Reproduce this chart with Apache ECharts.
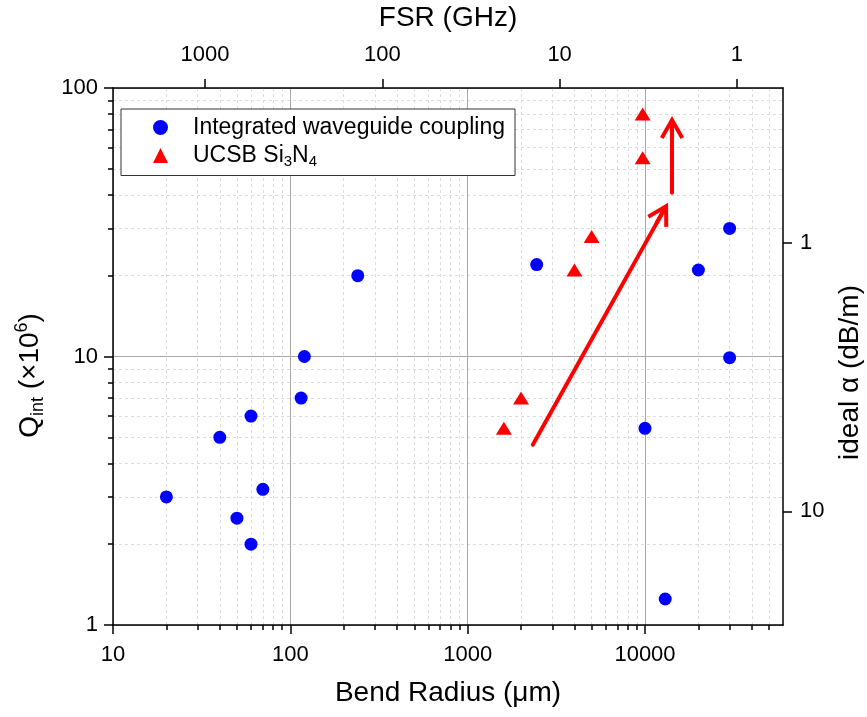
<!DOCTYPE html>
<html><head><meta charset="utf-8">
<script src="https://cdn.jsdelivr.net/npm/echarts@6/dist/echarts.min.js"></script>
<style>html,body{margin:0;padding:0;background:#fff}#c{width:867px;height:717px}</style>
</head><body><div id="c"></div>
<script>
// ---------------- data ----------------
const seriesNames = ['Integrated waveguide coupling', 'UCSB Si3N4'];
const waveguideRadius = [20, 40, 50, 60, 60, 70, 115, 120, 240, 2450, 10000, 13000, 20000, 30000, 30000];
const waveguideQ      = [3, 5, 2.5, 6, 2, 3.2, 7, 10, 20, 22, 5.4, 1.25, 21, 30, 9.9];
const ucsbRadius = [1600, 2000, 4000, 5000, 9700, 9700];
const ucsbQ      = [5.4, 7, 21, 28, 55, 80];

const bottomTicks = [10, 100, 1000, 10000];          // Bend radius (µm)
const leftTicks   = [1, 10, 100];                    // Q_int (x10^6)
const topTicks    = [1, 10, 100, 1000];              // FSR (GHz)
const rightTicks  = [1, 10];                         // ideal alpha (dB/m)
const xMinorTicks = [20, 30, 40, 50, 60, 70, 80, 90, 200, 300, 400, 500, 600, 700, 800, 900,
                     2000, 3000, 4000, 5000, 6000, 7000, 8000, 9000, 20000, 30000, 40000, 50000];
const yMinorTicks = [2, 3, 4, 5, 6, 7, 8, 9, 20, 30, 40, 50, 60, 70, 80, 90];

const xRange     = [10, 60000];
const yRange     = [1, 100];
const fsrRange   = [0.55, 3300];
const alphaRange = [0.265, 26.5];

// arrow annotations: [start, end] in (radius, Q)
const arrowDiagonal = [[2330, 4.69], [12500, 34.2]];
const arrowVertical = [[14200, 40.7], [14200, 71]];

// ---------------- chart ----------------
const FONT = "'Liberation Sans', Arial, sans-serif";
const BLACK = '#000';
const chart = echarts.init(document.getElementById('c'), null, {renderer: 'canvas'});
const fmt = v => String(Math.round(v * 1000) / 1000);
const arrowPath = 'path://M12,0 L24,21 L20.53,23 L14,11.56 L14,24 L10,24 L10,11.56 L3.47,23 L0,21 Z';

const mainAxisLine = {show: true, onZero: false, lineStyle: {color: BLACK, width: 1.5}};
const tickStyle = {color: BLACK, width: 1.5};
const labelStyle = {color: BLACK, fontSize: 22, fontFamily: FONT};
const nameStyle = {color: BLACK, fontSize: 28, fontFamily: FONT};

const option = {
  backgroundColor: '#fff',
  animation: false,
  grid: {left: 113, right: 84, top: 88, bottom: 92, containLabel: false, outerBoundsMode: 'none'},
  legend: {
    left: 121, top: 109, orient: 'vertical',
    padding: [7, 10, 6, 32], itemGap: 5, itemWidth: 15, itemHeight: 15,
    borderColor: '#333', borderWidth: 1, borderRadius: 0, backgroundColor: '#fff',
    selectedMode: false,
    data: [{name: seriesNames[0], icon: 'circle'}, {name: seriesNames[1], icon: 'triangle'}],
    formatter: name => name === seriesNames[1]
      ? '{n|UCSB Si}{s|3}{n|N}{s|4}' : '{n|' + name + '}',
    textStyle: {
      color: BLACK, fontFamily: FONT, fontSize: 23, padding: [0, 0, 0, 20],
      rich: {
        n: {fontSize: 23, lineHeight: 28, fontFamily: FONT, color: BLACK},
        s: {fontSize: 15, lineHeight: 10, verticalAlign: 'bottom', fontFamily: FONT, color: BLACK}
      }
    }
  },
  xAxis: [
    { // bottom main
      type: 'log', logBase: 10, min: xRange[0], max: xRange[1], position: 'bottom',
      name: 'Bend Radius (\u03bcm)', nameLocation: 'middle', nameGap: 54, nameTextStyle: nameStyle,
      nameMoveOverlap: false,
      axisLine: mainAxisLine,
      axisTick: {show: true, inside: false, length: 9, customValues: bottomTicks, lineStyle: tickStyle},
      axisLabel: Object.assign({show: true, margin: 19, customValues: bottomTicks, formatter: fmt}, labelStyle),
      splitLine: {show: true, lineStyle: {color: '#a8a8a8', width: 1, type: 'solid'}},
      minorTick: {show: false}, minorSplitLine: {show: false}
    },
    { // top FSR
      type: 'log', logBase: 10, min: fsrRange[0], max: fsrRange[1], position: 'top', inverse: true,
      name: 'FSR (GHz)', nameLocation: 'middle', nameGap: 56, nameTextStyle: nameStyle,
      nameMoveOverlap: false,
      axisLine: mainAxisLine,
      axisTick: {show: true, inside: false, length: 9, customValues: topTicks, lineStyle: tickStyle},
      axisLabel: Object.assign({show: true, margin: 22, customValues: topTicks, formatter: fmt}, labelStyle),
      splitLine: {show: false}, minorTick: {show: false}
    },
    { // bottom minor overlay
      type: 'log', logBase: 10, min: xRange[0], max: xRange[1], position: 'bottom',
      axisLine: {show: false, onZero: false},
      axisTick: {show: true, inside: false, length: 5, customValues: xMinorTicks, lineStyle: tickStyle},
      axisLabel: {show: false},
      splitLine: {show: true, lineStyle: {color: '#dcdcdc', width: 1, type: [3, 3]}},
      minorTick: {show: false}
    }
  ],
  yAxis: [
    { // left main
      type: 'log', logBase: 10, min: yRange[0], max: yRange[1], position: 'left',
      name: '{n|Q}{s|int}{n| (\u00d710}{p|6}{n|)}', nameLocation: 'middle', nameGap: 66,
      nameMoveOverlap: false,
      nameTextStyle: {
        color: BLACK, fontFamily: FONT, fontSize: 28, padding: [0, 38, 0, 0],
        rich: {
          n: {fontSize: 28, lineHeight: 34, fontFamily: FONT, color: BLACK},
          s: {fontSize: 18, lineHeight: 18, verticalAlign: 'bottom', fontFamily: FONT, color: BLACK},
          p: {fontSize: 18, lineHeight: 18, verticalAlign: 'top', fontFamily: FONT, color: BLACK}
        }
      },
      axisLine: mainAxisLine,
      axisTick: {show: true, inside: false, length: 9, customValues: leftTicks, lineStyle: tickStyle},
      axisLabel: Object.assign({show: true, margin: 15, customValues: leftTicks, formatter: fmt}, labelStyle),
      splitLine: {show: true, lineStyle: {color: '#a8a8a8', width: 1, type: 'solid'}},
      minorTick: {show: false}, minorSplitLine: {show: false}
    },
    { // right alpha
      type: 'log', logBase: 10, min: alphaRange[0], max: alphaRange[1], position: 'right', inverse: true,
      name: 'ideal \u03b1 (dB/m)', nameLocation: 'middle', nameGap: 53,
      nameTextStyle: Object.assign({padding: [0, 32, 0, 0]}, nameStyle),
      nameMoveOverlap: false,
      axisLine: mainAxisLine,
      axisTick: {show: true, inside: false, length: 9, customValues: rightTicks, lineStyle: tickStyle},
      axisLabel: Object.assign({show: true, margin: 17, customValues: rightTicks, formatter: fmt}, labelStyle),
      splitLine: {show: false}, minorTick: {show: false}
    },
    { // left minor overlay
      type: 'log', logBase: 10, min: yRange[0], max: yRange[1], position: 'left',
      axisLine: {show: false, onZero: false},
      axisTick: {show: true, inside: false, length: 5, customValues: yMinorTicks, lineStyle: tickStyle},
      axisLabel: {show: false},
      splitLine: {show: true, lineStyle: {color: '#dcdcdc', width: 1, type: [3, 3]}},
      minorTick: {show: false}
    }
  ],
  series: [
    {
      name: seriesNames[0], type: 'scatter', xAxisIndex: 0, yAxisIndex: 0,
      symbol: 'circle', symbolSize: 13,
      itemStyle: {color: '#0000ff', opacity: 1, borderWidth: 0},
      emphasis: {disabled: true}, silent: true, z: 5,
      data: waveguideRadius.map((r, i) => [r, waveguideQ[i]])
    },
    {
      name: seriesNames[1], type: 'scatter', xAxisIndex: 0, yAxisIndex: 0,
      symbol: 'triangle', symbolSize: [16, 13],
      itemStyle: {color: '#ff0000', opacity: 1, borderWidth: 0},
      emphasis: {disabled: true}, silent: true, z: 5,
      data: ucsbRadius.map((r, i) => [r, ucsbQ[i]])
    },
    {
      name: 'arrows', type: 'scatter', xAxisIndex: 0, yAxisIndex: 0, data: [], silent: true, z: 4,
      markLine: {
        silent: true, animation: false,
        symbol: ['none', arrowPath], symbolSize: 24,
        label: {show: false}, emphasis: {disabled: true},
        lineStyle: {color: '#ff0000', width: 4, type: 'solid', cap: 'round', opacity: 1},
        data: [
          [{coord: arrowDiagonal[0]}, {coord: arrowDiagonal[1]}],
          [{coord: arrowVertical[0]}, {coord: arrowVertical[1]}]
        ]
      }
    }
  ]
};
chart.setOption(option);
</script>
</body></html>
